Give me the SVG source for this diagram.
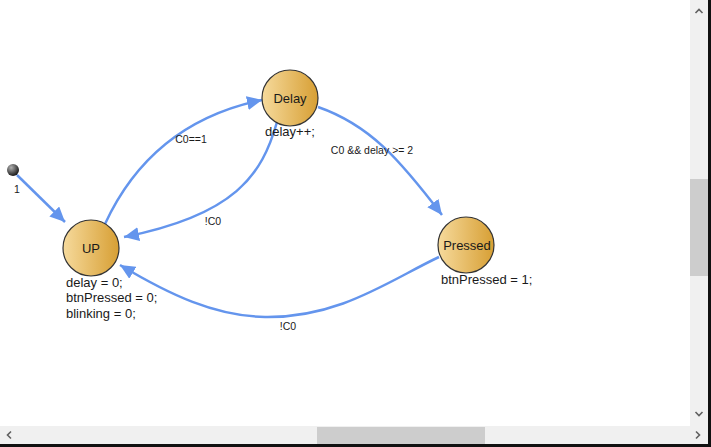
<svg xmlns="http://www.w3.org/2000/svg" width="711" height="447" viewBox="0 0 711 447">
<defs>
<linearGradient id="nodeGrad" x1="0" y1="0" x2="1" y2="0">
<stop offset="0" stop-color="#f6da9c"/>
<stop offset="1" stop-color="#d79f34"/>
</linearGradient>
<radialGradient id="initGrad" cx="0.35" cy="0.3" r="0.75">
<stop offset="0" stop-color="#b0b0b0"/>
<stop offset="1" stop-color="#111"/>
</radialGradient>
<marker id="arrow" markerUnits="userSpaceOnUse" markerWidth="16" markerHeight="14" refX="15" refY="7" orient="auto">
<path d="M0,0 L15,7 L0,14 z" fill="#6495ed"/>
</marker>
</defs>
<style>
.node{fill:url(#nodeGrad);stroke:#333;stroke-width:1.2}
.edge{fill:none;stroke:#6495ed;stroke-width:2.5;marker-end:url(#arrow)}
.nlabel{font-family:"Liberation Sans",Arial,sans-serif;font-size:13px;fill:#1a1a1a}
.elabel{font-family:"Liberation Sans",Arial,sans-serif;font-size:10.5px;fill:#1a1a1a}
.chev{fill:none;stroke:#606060;stroke-width:1.6}
</style>
<rect x="0" y="0" width="711" height="447" fill="#ffffff"/>
<g id="connectors">
<path class="edge" d="M17,175 L65,222"/>
<path class="edge" d="M105,224 C130,170 175,118 262,100"/>
<path class="edge" d="M277,122 C262,175 235,215 124,237"/>
<path class="edge" d="M318,107 C370,125 400,160 442,215"/>
<path class="edge" d="M439,257 C390,280 340,318 265,317 C215,316 170,295 120,265"/>
<text class="elabel" x="17" y="193" text-anchor="middle">1</text>
<text class="elabel" x="191" y="143" text-anchor="middle">C0==1</text>
<text class="elabel" x="213" y="225" text-anchor="middle">!C0</text>
<text class="elabel" x="372" y="154" text-anchor="middle">C0 &amp;&amp; delay &gt;= 2</text>
<text class="elabel" x="288" y="330" text-anchor="middle">!C0</text>
</g>
<g id="initial">
<circle cx="13" cy="170" r="6" fill="url(#initGrad)"/>
</g>
<g id="node-up">
<circle class="node" cx="91" cy="248" r="28"/>
<text class="nlabel" x="91" y="253" text-anchor="middle">UP</text>
<text class="nlabel" x="66" y="287">delay = 0;</text>
<text class="nlabel" x="66" y="302">btnPressed = 0;</text>
<text class="nlabel" x="66" y="318">blinking = 0;</text>
</g>
<g id="node-delay">
<circle class="node" cx="290" cy="98" r="28"/>
<text class="nlabel" x="290" y="103" text-anchor="middle">Delay</text>
<text class="nlabel" x="265" y="136">delay++;</text>
</g>
<g id="node-pressed">
<circle class="node" cx="466" cy="245" r="28"/>
<text class="nlabel" x="467" y="250" text-anchor="middle">Pressed</text>
<text class="nlabel" x="441" y="284">btnPressed = 1;</text>
</g>
<g id="scrollbars">
<rect x="690" y="0" width="18" height="426" fill="#f0f0f0"/>
<rect x="690" y="179" width="18" height="97" fill="#cdcdcd"/>
<polyline class="chev" points="695.5,13 699,9.5 702.5,13"/>
<polyline class="chev" points="695.5,412 699,415.5 702.5,412"/>
<rect x="0" y="426" width="708" height="18" fill="#f0f0f0"/>
<rect x="317" y="427" width="168" height="17" fill="#cdcdcd"/>
<polyline class="chev" points="11,431.5 7.5,435 11,438.5"/>
<polyline class="chev" points="696,431.5 699.5,435 696,438.5"/>
<rect x="708" y="0" width="3" height="447" fill="#111"/>
<rect x="0" y="444" width="711" height="3" fill="#111"/>
</g>
</svg>
